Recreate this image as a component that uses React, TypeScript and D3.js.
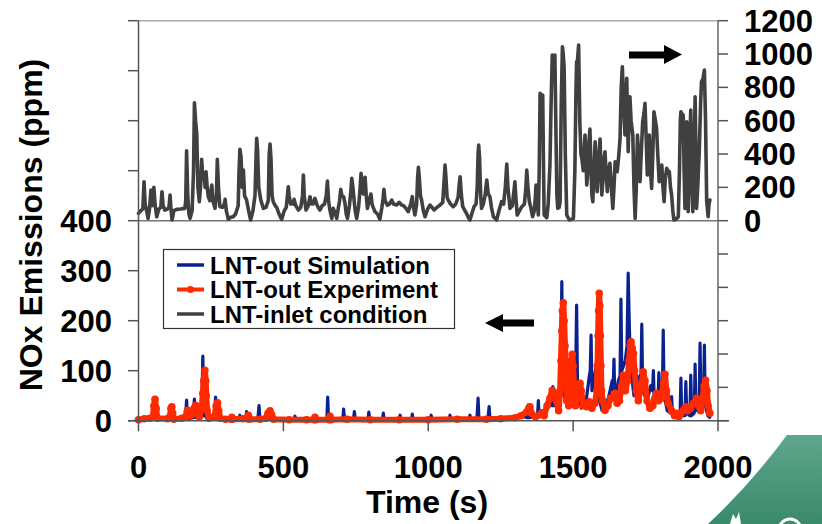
import React from "react";
import * as d3 from "d3";

// LNT-inlet condition (top panel, right axis, ppm)
const inletTime = [0,8,15,19,23,28,33,38,43,47,50,53,57,63,70,77,81,85,91,100,105,109,112,116,122,132,145,160,163,166,170,174,178,185,190,193,197,201,205,210,214,218,222,226,230,233,237,241,246,250,253,257,264,269,272,276,281,290,296,299,303,310,318,327,335,344,347,350,354,358,362,366,373,380,387,395,402,406,408,411,415,422,431,440,448,451,454,457,461,465,472,477,485,494,503,510,514,517,520,525,529,533,537,543,552,560,566,569,572,578,586,592,597,603,609,615,620,626,634,642,648,652,656,661,667,672,680,684,690,694,698,702,708,713,717,721,728,733,736,740,744,748,753,760,765,768,772,776,782,786,790,796,802,806,810,816,825,833,840,844,847,851,859,866,874,880,891,900,908,915,923,931,938,942,945,949,954,960,963,966,969,973,977,983,989,998,1006,1013,1020,1030,1041,1050,1055,1058,1061,1065,1069,1077,1086,1095,1103,1107,1110,1114,1119,1130,1138,1144,1150,1158,1165,1169,1172,1174,1177,1181,1184,1190,1196,1202,1207,1213,1218,1225,1236,1244,1253,1260,1266,1271,1275,1282,1290,1296,1299,1303,1307,1315,1323,1332,1337,1340,1344,1349,1354,1360,1366,1370,1372,1376,1380,1383,1386,1390,1395,1398,1400,1409,1414,1420,1424,1428,1432,1437,1441,1444,1447,1452,1455,1459,1463,1466,1469,1473,1478,1487,1494,1501,1506,1510,1512,1515,1519,1523,1527,1530,1535,1539,1541,1544,1547,1551,1555,1558,1562,1565,1568,1572,1576,1580,1583,1587,1590,1593,1596,1599,1603,1607,1610,1614,1618,1622,1627,1632,1637,1641,1645,1649,1652,1657,1662,1666,1670,1674,1679,1682,1685,1688,1690,1693,1696,1700,1706,1710,1714,1718,1722,1726,1731,1735,1740,1745,1748,1752,1756,1760,1763,1767,1771,1775,1779,1784,1788,1792,1797,1802,1806,1810,1814,1818,1823,1827,1832,1836,1840,1844,1848,1856,1863,1867,1870,1872,1876,1880,1883,1886,1889,1892,1895,1897,1900,1903,1906,1909,1913,1917,1921,1924,1926,1930,1935,1940,1943,1948,1953,1957,1961,1966,1969,1972];
const inletValue = [44,60,70,234,100,60,14,70,184,90,100,200,100,24,70,80,174,90,64,70,80,154,70,4,60,68,70,74,120,420,150,40,14,60,300,708,600,524,200,114,200,368,250,284,200,294,200,144,120,180,214,120,74,150,368,200,84,80,100,128,60,8,20,24,40,90,300,428,380,200,304,150,124,60,4,60,150,400,494,420,200,124,74,80,120,400,460,380,150,114,90,80,40,8,60,80,150,204,150,100,114,100,128,90,64,80,150,274,150,64,90,144,100,100,134,100,80,64,90,100,150,238,120,60,14,74,40,14,80,120,188,150,144,100,40,14,90,180,254,200,124,60,14,90,200,284,220,160,260,150,74,120,160,100,80,54,40,8,80,130,188,120,94,100,124,100,94,110,94,90,74,54,90,120,144,80,34,100,250,320,260,150,124,60,24,70,94,80,64,80,94,110,250,334,260,140,124,100,84,100,140,220,264,160,84,50,20,4,40,84,100,200,400,454,380,150,74,100,150,244,160,144,80,24,4,60,114,100,200,340,200,74,90,180,234,120,34,60,84,100,200,304,200,114,80,24,60,150,214,120,34,300,764,740,754,300,34,18,100,334,700,994,990,994,500,150,74,80,114,700,1044,1000,914,400,34,4,8,14,300,800,954,960,1054,600,400,374,300,450,514,400,214,300,480,550,300,150,114,300,474,300,174,300,420,490,300,154,250,380,414,280,174,300,344,200,74,200,354,350,294,380,494,800,924,700,514,700,854,600,414,600,744,600,514,200,14,200,514,400,234,400,594,650,704,500,274,400,514,300,194,400,654,600,554,400,234,300,334,200,114,250,314,300,294,200,154,60,4,10,24,300,600,654,640,634,300,74,300,594,300,54,200,500,664,400,54,300,744,400,74,200,400,700,834,850,904,600,114,24,100,124];

// LNT-out Simulation (bottom panel, left axis, ppm)
const simTime = [0,20,50,80,110,150,162,166,169,188,193,197,218,222,226,240,262,266,269,290,320,347,350,353,370,373,376,412,416,419,460,500,537,540,543,600,650,653,656,700,705,708,711,742,745,748,792,795,798,842,845,848,900,903,906,942,945,948,1000,1007,1010,1013,1072,1075,1078,1130,1141,1144,1147,1168,1172,1175,1206,1210,1213,1250,1300,1330,1342,1345,1348,1370,1377,1380,1383,1400,1415,1427,1430,1434,1448,1455,1458,1461,1464,1475,1486,1489,1492,1507,1509,1512,1515,1528,1545,1556,1559,1562,1565,1577,1580,1583,1586,1600,1610,1613,1616,1635,1638,1641,1644,1656,1662,1665,1668,1680,1686,1690,1693,1697,1700,1710,1720,1730,1734,1737,1740,1755,1768,1774,1777,1780,1790,1793,1796,1799,1808,1811,1814,1825,1837,1840,1843,1860,1869,1872,1875,1886,1889,1892,1903,1906,1909,1918,1921,1924,1935,1938,1941,1950,1953,1956,1965,1975];
const simValue = [2,3,4,3,5,3,4,41,4,6,43,6,8,129,10,5,6,47,6,3,5,3,11,2,3,18,3,4,30,3,4,3,3,9,2,3,3,47,3,4,3,23,3,3,18,3,3,17,3,3,15,2,3,11,2,2,13,2,2,2,11,2,2,11,2,3,3,11,2,3,45,3,3,28,3,4,5,8,6,31,6,10,8,40,8,20,35,30,68,30,40,60,120,278,60,40,40,108,50,60,100,231,80,25,40,90,100,171,60,100,110,147,50,20,20,41,30,80,60,123,40,80,90,243,100,120,150,295,215,120,100,50,60,90,80,193,60,40,70,60,100,40,40,40,96,50,50,181,50,20,15,48,10,8,8,85,10,10,78,15,10,91,10,15,113,20,30,155,40,40,151,30,10,5];

// LNT-out Experiment (bottom panel, left axis, ppm)
const expTime = [0,20,40,50,53,57,61,65,100,108,112,115,118,122,150,163,168,170,173,185,192,197,202,210,218,222,225,229,232,234,237,243,262,268,273,277,282,300,320,322,325,360,375,379,383,420,440,447,454,460,466,520,580,606,609,612,658,661,664,720,800,900,1000,1100,1200,1250,1300,1320,1340,1347,1351,1356,1370,1385,1392,1400,1410,1420,1428,1435,1442,1450,1455,1458,1461,1463,1466,1469,1472,1475,1478,1485,1490,1494,1497,1500,1504,1508,1515,1520,1524,1528,1535,1547,1556,1565,1575,1582,1584,1586,1588,1590,1592,1594,1596,1598,1602,1610,1620,1630,1645,1652,1660,1667,1673,1680,1688,1693,1697,1700,1704,1708,1712,1718,1725,1735,1742,1748,1755,1765,1775,1782,1788,1795,1805,1812,1817,1822,1828,1840,1850,1857,1865,1872,1880,1888,1895,1905,1915,1926,1932,1940,1946,1952,1957,1962,1966,1972];
const expValue = [2,4,5,8,30,43,25,5,4,8,25,28,15,3,5,8,18,21,10,12,25,31,18,8,25,55,80,101,80,50,20,5,8,30,36,20,5,3,3,7,3,4,4,11,3,3,5,15,20,12,3,2,2,2,7,2,2,9,2,3,2,2,2,3,3,4,6,10,18,25,28,15,8,12,16,10,30,45,61,55,40,20,60,120,180,220,236,200,150,100,40,30,80,120,133,110,60,30,50,70,75,60,30,28,38,25,35,60,110,170,220,255,230,170,110,60,40,21,30,45,55,35,40,70,91,60,80,120,150,158,145,135,100,60,40,70,98,80,40,25,30,45,55,40,45,75,93,60,35,20,10,15,8,15,21,28,20,25,35,45,30,20,40,70,81,60,30,15];

const xTicks = [0, 500, 1000, 1500, 2000];
const leftTickLabels = [0, 100, 200, 300, 400];
const rightTickLabels = [0, 200, 400, 600, 800, 1000, 1200];
const legendLabels = ["LNT-out Simulation", "LNT-out Experiment", "LNT-inlet condition"];

const FONT = "'Liberation Sans', Arial, Helvetica, sans-serif";

export default function App() {
  const x = d3.scaleLinear().domain([0, 2000]).range([138.5, 718]);
  const yTop = d3.scaleLinear().domain([0, 1200]).range([220.7, 20.7]);
  const yBot = d3.scaleLinear().domain([0, 800]).range([420.7, 20.7]);

  const inlet = inletTime.map((t, i) => [t, inletValue[i]] as [number, number]);
  const sim = simTime.map((t, i) => [t, simValue[i]] as [number, number]);
  const exp = expTime.map((t, i) => [t, expValue[i]] as [number, number]);

  const lineTop = d3.line<[number, number]>().x(d => x(d[0])).y(d => yTop(d[1]));
  const lineBot = d3.line<[number, number]>().x(d => x(d[0])).y(d => yBot(d[1]));

  const leftTicks = d3.range(0, 801, 100);
  const rightTicks = d3.range(-1200, 1201, 200);

  const x0 = x(0), x1 = x(2000);
  const yT = yTop(1200), yMid = yTop(0), yB = yBot(0);

  return (
    <svg width={822} height={524} style={{ position: "absolute", left: 0, top: 0, background: "#fff" }}
      fontFamily={FONT} fontWeight="bold">
      <defs>
        <linearGradient id="grn" x1="0" y1="0" x2="0" y2="1">
          <stop offset="0" stopColor="#5ea68c" />
          <stop offset="1" stopColor="#3a8a6c" />
        </linearGradient>
      </defs>
      {/* decoration */}
      <path d="M787,435 L822,435 L822,524 L708,524 Q750,485 787,435 Z" fill="url(#grn)" />
      <path d="M730,524 L733,514 L736,519 L739,512 L741,524 Z" fill="#fff" />
      <circle cx={790} cy={530} r={11} fill="none" stroke="#fff" strokeWidth={3} />

      {/* frame */}
      <line x1={x0} x2={x1} y1={yT} y2={yT} stroke="#aaa" strokeWidth={1.5} />
      <line x1={x0} x2={x1} y1={yMid} y2={yMid} stroke="#777" strokeWidth={1.5} />

      {/* inlet line */}
      <path d={lineTop(inlet) || ""} fill="none" stroke="#404040" strokeWidth={3.6} strokeLinejoin="round" strokeLinecap="round" />

      {/* simulation & experiment */}
      <path d={lineBot(sim) || ""} fill="none" stroke="#0a2290" strokeWidth={3.2} strokeLinejoin="round" />
      <path d={lineBot(exp) || ""} fill="none" stroke="#ff2a00" strokeWidth={6} strokeLinejoin="round" strokeLinecap="round" />
      {exp.map((d, i) => (
        <circle key={i} cx={x(d[0])} cy={yBot(d[1])} r={3.8} fill="#ff2a00" />
      ))}

      {/* axes */}
      <line x1={x0} x2={x0} y1={yT} y2={yB} stroke="#555" strokeWidth={1.5} />
      <line x1={x1} x2={x1} y1={yT} y2={yB} stroke="#666" strokeWidth={1.5} />
      <line x1={128} x2={729} y1={yB} y2={yB} stroke="#555" strokeWidth={1.5} />
      {leftTicks.map(v => (
        <line key={"l" + v} x1={128} x2={x0} y1={yBot(v)} y2={yBot(v)} stroke="#555" strokeWidth={1.5} />
      ))}
      {rightTicks.map(v => (
        <line key={"r" + v} x1={x1} x2={728} y1={yTop(v)} y2={yTop(v)} stroke="#555" strokeWidth={1.5} />
      ))}
      {xTicks.map(v => (
        <line key={"x" + v} x1={x(v)} x2={x(v)} y1={yB} y2={yB + 10.5} stroke="#555" strokeWidth={1.5} />
      ))}

      {/* tick labels */}
      {leftTickLabels.map(v => (
        <text key={"lt" + v} x={112} y={yBot(v) + 11} fontSize={31} textAnchor="end" fill="#000">{v}</text>
      ))}
      {rightTickLabels.map(v => (
        <text key={"rt" + v} x={744} y={yTop(v) + 11} fontSize={31} textAnchor="start" fill="#000">{v}</text>
      ))}
      {xTicks.map(v => (
        <text key={"xt" + v} x={x(v)} y={478} fontSize={31} textAnchor="middle" fill="#000">{v}</text>
      ))}

      {/* axis titles */}
      <text x={427} y={513} fontSize={32} textAnchor="middle" fill="#000">Time (s)</text>
      <text transform="translate(42,225) rotate(-90)" fontSize={32} textAnchor="middle" fill="#000">NOx Emissions (ppm)</text>

      {/* arrows */}
      <path d="M629,51.5 L664,51.5 L664,45 L682,54.5 L664,64 L664,58.5 L629,58.5 Z" fill="#000" />
      <path d="M534,319.5 L503,319.5 L503,314 L485,323 L503,332 L503,326.5 L534,326.5 Z" fill="#000" />

      {/* legend */}
      <rect x={163.5} y={249.5} width={291} height={79} fill="#fff" stroke="#333" strokeWidth={1.2} />
      {legendLabels.map((lab, i) => {
        const cy = 265 + i * 24.5;
        const col = i === 0 ? "#0a2290" : i === 1 ? "#ff2a00" : "#404040";
        return (
          <g key={lab}>
            <line x1={177} x2={204} y1={cy} y2={cy} stroke={col} strokeWidth={i === 1 ? 4 : 3.5} />
            {i === 1 && <circle cx={190.5} cy={cy} r={3.6} fill={col} />}
            <text x={210} y={cy + 8.5} fontSize={24} fill="#000">{lab}</text>
          </g>
        );
      })}
    </svg>
  );
}
